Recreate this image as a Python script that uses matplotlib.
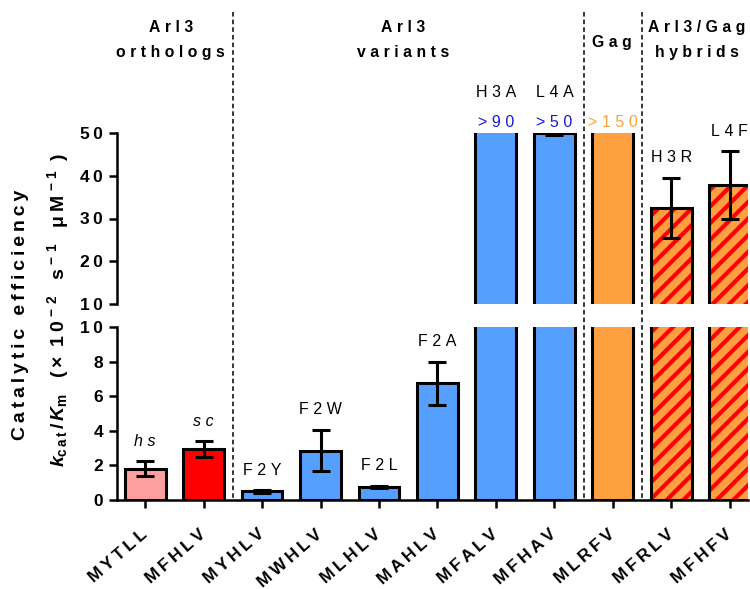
import numpy as np
import matplotlib
matplotlib.use("Agg")
import matplotlib.pyplot as plt
from matplotlib.lines import Line2D
from matplotlib.transforms import blended_transform_factory, ScaledTranslation

plt.rcParams['font.family'] = ['Liberation Sans', 'DejaVu Sans']
plt.rcParams['mathtext.fontset'] = 'custom'
plt.rcParams['mathtext.rm'] = 'Liberation Sans:bold'
plt.rcParams['mathtext.it'] = 'Liberation Sans:bold:italic'
plt.rcParams['mathtext.bf'] = 'Liberation Sans:bold'
plt.rcParams['hatch.linewidth'] = 3.0

# ---- data ----
constructs = ["MYTLL", "MFHLV", "MYHLV", "MWHLV", "MLHLV", "MAHLV",
              "MFALV", "MFHAV", "MLRFV", "MFRLV", "MFHFV"]
efficiency = [1.8, 2.95, 0.5, 2.85, 0.77, 6.75, 90, 50, 150, 32.5, 37.8]
errors = [0.43, 0.45, 0.07, 1.2, 0.05, 1.25, np.nan, 0.5, np.nan, 7.0, 7.9]
mutations = ["hs", "sc", "F2Y", "F2W", "F2L", "F2A", "H3A", "L4A", "", "H3R", "L4F"]
lower_bounds = ["", "", "", "", "", "", ">90", ">50", ">150", "", ""]
groups = ["Arl3\northologs", "Arl3\nvariants", "Gag", "Arl3/Gag\nhybrids"]
group_x = [0.44, 4.42, 7.98, 9.44]
group_dividers = [1.5, 7.5, 8.5]

PINK, RED, BLUE, ORANGE = "#FFA0A0", "#FF0000", "#55A0FF", "#FFA040"
face = [PINK, RED, BLUE, BLUE, BLUE, BLUE, BLUE, BLUE, ORANGE, ORANGE, ORANGE]
hatched = [False] * 9 + [True, True]
bound_colors = {">90": "#1A1AD0", ">50": "#1A1AD0", ">150": ORANGE}

def spaced(s, sep="\u2009"):
    return "\n".join(sep.join(line) for line in s.split("\n"))

W, H = 750, 589
fig = plt.figure(figsize=(7.5, 5.89), dpi=100)
left, right = 117 / W, 748 / W
ax_lo = fig.add_axes([left, 1 - 500 / H, right - left, (500 - 327) / H])
ax_hi = fig.add_axes([left, 1 - 304 / H, right - left, (304 - 133) / H])

x = np.arange(len(constructs))
width = 0.7
edge_lw = 2.2

for ax in (ax_lo, ax_hi):
    for i in x:
        if hatched[i]:
            ax.bar(i, efficiency[i], width, color=ORANGE, edgecolor=RED,
                   hatch="//", linewidth=0, zorder=2)
            ax.bar(i, efficiency[i], width, fill=False, edgecolor="black",
                   linewidth=edge_lw, zorder=3)
        else:
            ax.bar(i, efficiency[i], width, color=face[i], edgecolor="black",
                   linewidth=edge_lw, zorder=3)
    ax.errorbar(x, efficiency, yerr=errors, fmt="none", ecolor="black",
                elinewidth=2.2, capsize=6.5, capthick=2.2, zorder=4)
    ax.set_xlim(-0.48, 10.31)
    for s in ("top", "right"):
        ax.spines[s].set_visible(False)
    ax.spines["left"].set_linewidth(1.8)
    ax.spines["bottom"].set_linewidth(1.8)
    ax.tick_params(axis="y", direction="out", length=6, width=1.8,
                   labelsize=12.5, pad=4)

ax_lo.set_ylim(0, 10)
ax_lo.set_yticks([0, 2, 4, 6, 8, 10])
ax_lo.set_yticklabels([spaced(str(v)) for v in [0, 2, 4, 6, 8, 10]],
                      fontweight="bold")
ax_lo.set_xticks(x)
ax_lo.set_xticklabels([spaced(c) for c in constructs], rotation=41,
                      ha="right", rotation_mode="anchor", fontweight="bold",
                      fontsize=12.5)
ax_lo.tick_params(axis="x", direction="out", length=6, width=1.8, pad=13)
shift = ScaledTranslation(-5 / 100, 0, fig.dpi_scale_trans)
for lab in ax_lo.get_xticklabels():
    lab.set_transform(lab.get_transform() + shift)

ax_hi.set_ylim(10, 50)
ax_hi.set_yticks([10, 20, 30, 40, 50])
ax_hi.set_yticklabels([spaced(str(v)) for v in [10, 20, 30, 40, 50]],
                      fontweight="bold")
ax_hi.spines["bottom"].set_visible(False)
ax_hi.set_xticks([])

# mutation labels above each bar
lab_sep = "\u2009\u200a"
for i in x:
    top = efficiency[i] + (0 if np.isnan(errors[i]) else errors[i])
    style = "italic" if mutations[i] in ("hs", "sc") else "normal"
    if lower_bounds[i]:
        ax_hi.annotate(spaced(lower_bounds[i], lab_sep), (i, 50),
                       xytext=(0, 7.5), textcoords="offset points",
                       ha="center", va="center", fontsize=11.5,
                       color=bound_colors[lower_bounds[i]],
                       annotation_clip=False)
        if mutations[i]:
            ax_hi.annotate(spaced(mutations[i], lab_sep), (i, 50),
                           xytext=(0, 29), textcoords="offset points",
                           ha="center", va="center", fontsize=11.5,
                           annotation_clip=False)
    elif mutations[i]:
        ax = ax_lo if top < 10 else ax_hi
        ax.annotate(spaced(mutations[i], lab_sep), (i, top), xytext=(0, 14.5),
                    textcoords="offset points", ha="center", va="center",
                    fontsize=11.5, fontstyle=style, annotation_clip=False)

tr = blended_transform_factory(ax_lo.transData, fig.transFigure)

# group headings
for gx, g in zip(group_x, groups):
    yc = 43 if g == "Gag" else 40
    fig.text(gx, 1 - yc / H, spaced(g, "\u2009\u200a"), ha="center",
             va="center", fontsize=11.3, fontweight="bold", linespacing=1.85,
             transform=tr)

# dashed group dividers spanning both panels
for dx in group_dividers:
    fig.add_artist(Line2D([dx, dx], [1 - 12 / H, 1 - 500 / H], transform=tr,
                          color="black", linestyle=(0, (3, 2)), linewidth=1.1,
                          zorder=1))

# y-axis title
fig.text(21 / W, 1 - 315 / H, spaced("Catalytic efficiency"),
         rotation=90, ha="center", va="center", fontsize=14,
         fontweight="bold")
units = (r"$k_{\rm c\,a\,t}\,/\,K_{\rm m}$" + "   (\u2009×\u2009 1\u20090"
         + r"$^{\,-\,2}$" + "   s" + r"$^{\,-\,1}$" + "   μ\u2009M"
         + r"$^{\,-\,1}$" + " \u2009)")
fig.text(58 / W, 1 - 310 / H, units, rotation=90, ha="center", va="center",
         fontsize=14, fontweight="bold")

fig.savefig("out.png", dpi=100)
